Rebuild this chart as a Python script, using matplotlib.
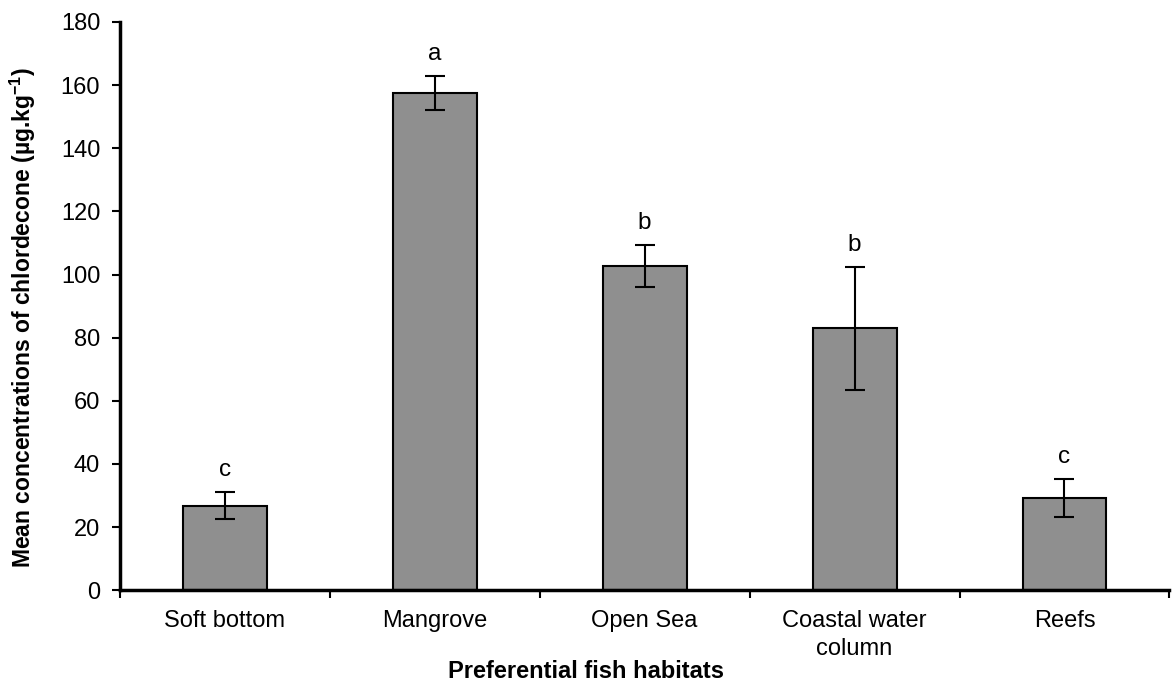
import numpy as np
import matplotlib.pyplot as plt

plt.rcParams['font.family'] = ['Liberation Sans', 'DejaVu Sans']
plt.rcParams['mathtext.fontset'] = 'custom'
plt.rcParams['mathtext.rm'] = 'Liberation Sans'
plt.rcParams['mathtext.bf'] = 'Liberation Sans:bold'

habitats = ["Soft bottom", "Mangrove", "Open Sea", "Coastal water\ncolumn", "Reefs"]
means = [26.8, 157.5, 102.8, 83.0, 29.2]
errs = [4.3, 5.4, 6.6, 19.5, 6.1]
letters = ["c", "a", "b", "b", "c"]

fig = plt.figure(figsize=(11.73, 6.84), dpi=100)
ax = fig.add_axes([0.102, 0.137, 0.895, 0.831])

x = np.arange(len(habitats))
ax.bar(x, means, width=0.4, color='#8f8f8f', edgecolor='black', linewidth=1.5, zorder=2)
ax.errorbar(x, means, yerr=errs, fmt='none', ecolor='black', elinewidth=1.5,
            capsize=7, capthick=1.5, zorder=3)

for xi, m, e, lab in zip(x, means, errs, letters):
    ax.annotate(lab, (xi, m + e), xytext=(0, 8), textcoords='offset points',
                ha='center', va='bottom', fontsize=17.5)

ax.set_xlim(-0.5, len(habitats) - 0.5)
ax.set_ylim(0, 180)
ax.set_yticks(np.arange(0, 181, 20))

ax.set_xticks(x)
ax.set_xticklabels(habitats, fontsize=17, linespacing=1.35)
ax.set_xticks(np.arange(-0.5, len(habitats)), minor=True)
ax.tick_params(axis='x', which='major', length=0, pad=14)
ax.tick_params(axis='x', which='minor', length=6, width=1.5, direction='out')
ax.tick_params(axis='y', length=6, width=1.5, labelsize=17, pad=8)

for s in ['top', 'right']:
    ax.spines[s].set_visible(False)
for s in ['left', 'bottom']:
    ax.spines[s].set_linewidth(2.5)

fig.text(0.5, 0.018, "Preferential fish habitats", fontsize=17, fontweight='bold',
         ha='center', va='center')
ax.set_ylabel(r"Mean concentrations of chlordecone (µg.kg$\mathbf{^{-1}}$)", fontsize=16.5,
              fontweight='bold')
ax.yaxis.set_label_coords(-0.078, 0.48)

fig.savefig("out.png", dpi=100)
